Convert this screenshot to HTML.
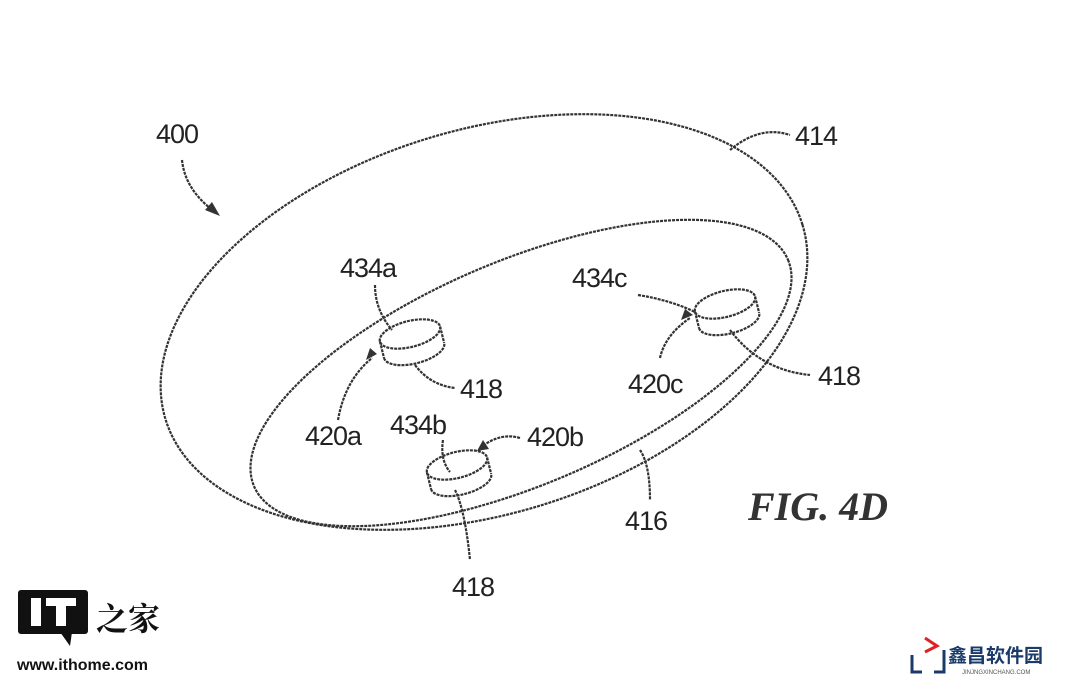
<!DOCTYPE html>
<html><head><meta charset="utf-8"><style>
body{margin:0;background:#fff;width:1081px;height:684px;overflow:hidden;position:relative;font-family:"Liberation Sans",sans-serif}
svg{position:absolute;left:0;top:0}
.t{font-family:"Liberation Sans",sans-serif;font-size:27px;fill:#222;letter-spacing:-1px}
</style></head><body>
<svg width="1081" height="684" viewBox="0 0 1081 684">
<defs>
<g id="cyl">
<ellipse cx="0" cy="0" rx="31" ry="13"/>
<line x1="-31" y1="0" x2="-31" y2="17"/><line x1="31" y1="0" x2="31" y2="17"/>
<path d="M-31 17 A31 13 0 0 0 31 17"/>
</g>
</defs>
<g fill="none" stroke="#333" stroke-width="2.2" stroke-dasharray="3 1">
<ellipse cx="484" cy="322" rx="333" ry="192" transform="rotate(-17 484 322)"/>
<ellipse cx="521" cy="373" rx="290" ry="112" transform="rotate(-23 521 373)"/>
<use href="#cyl" transform="translate(410 334) rotate(-14)"/>
<use href="#cyl" transform="translate(457 465) rotate(-14)"/>
<use href="#cyl" transform="translate(725 304) rotate(-14)"/>
<path d="M182 160 Q185 190 215 212"/>
<path d="M730 150 Q760 125 790 135"/>
<path d="M375 285 Q375 310 392 330"/>
<path d="M415 365 Q430 385 455 388"/>
<path d="M338 420 Q345 380 372 358"/>
<path d="M443 440 Q440 460 450 472"/>
<path d="M520 438 Q500 432 480 448"/>
<path d="M455 490 Q465 510 470 560"/>
<path d="M638 295 Q670 300 695 312"/>
<path d="M660 358 Q665 335 690 318"/>
<path d="M730 330 Q760 370 810 375"/>
<path d="M640 450 Q650 465 650 500"/>
</g>
<g fill="#333">
<polygon points="220,216 205,210 212,202"/>
<polygon points="377,354 366,360 370,348"/>
<polygon points="477,451 483,440 489,449"/>
<polygon points="693,315 681,320 685,309"/>
</g>
<text class="t" x="156" y="143">400</text>
<text class="t" x="795" y="145">414</text>
<text class="t" x="340" y="277">434a</text>
<text class="t" x="572" y="287">434c</text>
<text class="t" x="460" y="398">418</text>
<text class="t" x="818" y="385">418</text>
<text class="t" x="628" y="393">420c</text>
<text class="t" x="305" y="445">420a</text>
<text class="t" x="390" y="434">434b</text>
<text class="t" x="527" y="446">420b</text>
<text class="t" x="625" y="530">416</text>
<text class="t" x="452" y="596">418</text>
<text x="748" y="520" style="font-family:'Liberation Serif',serif;font-style:italic;font-weight:bold;font-size:40px;fill:#333">FIG. 4D</text>
<rect x="18" y="590" width="70" height="44" rx="3" fill="#111"/>
<polygon points="60,632 72,632 70,646" fill="#111"/>
<rect x="31" y="598" width="10" height="28" fill="#fff"/>
<rect x="46" y="598" width="30" height="8" fill="#fff"/>
<rect x="56" y="598" width="10" height="28" fill="#fff"/>
<text x="96" y="630" style="font-family:'Noto Serif CJK SC',serif;font-weight:bold;font-size:32px;fill:#111">之家</text>
<text x="17" y="670" style="font-family:'Liberation Sans',sans-serif;font-weight:bold;font-size:16px;fill:#111">www.ithome.com</text>
<g fill="none" stroke-width="3">
<path d="M925 638 L937 646 L925 652" stroke="#d22"/>
<path d="M912 655 L912 672 L922 672 M944 650 L944 672 L934 672" stroke="#1a3a6a"/>
</g>
<text x="948" y="662" style="font-family:'Noto Sans CJK SC',sans-serif;font-weight:bold;font-size:19px;fill:#1a3a6a">鑫昌软件园</text>
<text x="962" y="674" style="font-family:'Liberation Sans',sans-serif;font-size:6px;fill:#555">JINJNGXINCHANG.COM</text>
</svg>
</body></html>
